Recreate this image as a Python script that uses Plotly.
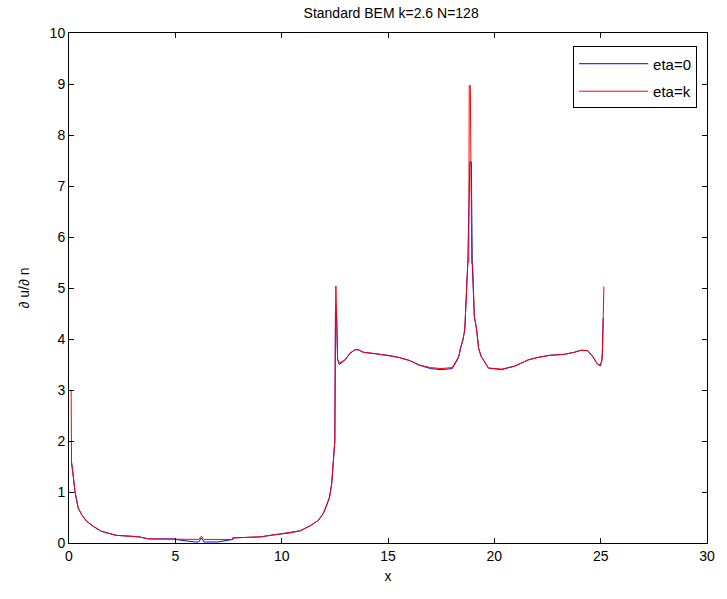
import plotly.graph_objects as go

# ---- data ----
x_red = [0.1, 0.12, 0.2, 0.28, 0.43, 0.59, 0.82, 1.13, 1.52, 1.91, 2.22, 3.0, 3.3, 3.75, 5.0, 5.0,
         6.1, 6.22, 6.35, 7.7, 7.7, 9.0, 9.47, 10.0, 10.42, 10.88, 11.35, 11.74, 11.97, 12.13,
         12.25, 12.35, 12.42, 12.5, 12.53, 12.55, 12.58, 12.63, 12.71, 12.98, 13.21, 13.45, 13.6,
         13.84, 14.45, 15.0, 15.5, 16.0, 16.46, 17.0, 17.5, 18.02, 18.26, 18.33, 18.41, 18.52,
         18.61, 18.68, 18.75, 18.8, 18.82, 18.87, 18.9, 18.94, 18.98, 19.06, 19.17, 19.26, 19.38,
         19.72, 20.35, 20.97, 21.59, 22.06, 22.6, 23.3, 23.77, 24.08, 24.39, 24.62, 24.85, 24.98,
         25.06, 25.08, 25.12, 25.15]
y_red = [3.0, 1.58, 1.31, 1.01, 0.69, 0.56, 0.43, 0.33, 0.23, 0.19, 0.15, 0.13, 0.12, 0.08, 0.08, 0.07,
         0.07, 0.13, 0.07, 0.07, 0.1, 0.12, 0.15, 0.17, 0.2, 0.24, 0.34, 0.45, 0.59, 0.75,
         0.9, 1.15, 1.57, 2.0, 4.53, 5.04, 4.53, 3.6, 3.53, 3.59, 3.72, 3.79, 3.79,
         3.74, 3.71, 3.68, 3.64, 3.58, 3.49, 3.44, 3.42, 3.44, 3.59, 3.66, 3.82, 3.98,
         4.18, 4.83, 5.48, 5.5, 8.97, 8.97, 7.47, 5.48, 5.48, 4.44, 4.18, 3.82, 3.66,
         3.43, 3.41, 3.47, 3.59, 3.64, 3.68, 3.70, 3.74, 3.78, 3.77, 3.66, 3.51, 3.49,
         3.59, 3.73, 4.41, 5.03]

x_blue = [0.1, 0.12, 0.2, 0.28, 0.43, 0.59, 0.82, 1.13, 1.52, 1.91, 2.22, 3.0, 3.3, 3.75, 5.0, 5.0,
          5.9, 6.1, 6.22, 6.35, 7.0, 7.7, 7.7, 9.0, 9.47, 10.0, 10.42, 10.88, 11.35, 11.74, 11.97,
          12.13, 12.25, 12.35, 12.42, 12.5, 12.53, 12.58, 12.63, 12.71, 12.98, 13.21, 13.45, 13.6,
          13.84, 14.45, 15.0, 15.5, 16.0, 16.46, 17.0, 17.5, 18.02, 18.26, 18.33, 18.41, 18.52,
          18.61, 18.68, 18.75, 18.85, 18.92, 18.96, 19.06, 19.17, 19.26, 19.38, 19.72, 20.35,
          20.97, 21.59, 22.06, 22.6, 23.3, 23.77, 24.08, 24.39, 24.62, 24.85, 24.98, 25.06, 25.08,
          25.12]
y_blue = [1.6, 1.58, 1.31, 1.01, 0.69, 0.56, 0.43, 0.33, 0.23, 0.19, 0.15, 0.13, 0.12, 0.08, 0.08, 0.07,
          0.02, 0.02, 0.1, 0.02, 0.02, 0.07, 0.1, 0.12, 0.15, 0.17, 0.2, 0.24, 0.34, 0.45, 0.59,
          0.75, 0.9, 1.15, 1.57, 2.0, 4.53, 4.53, 3.6, 3.5, 3.59, 3.72, 3.79, 3.79,
          3.74, 3.71, 3.68, 3.64, 3.58, 3.49, 3.42, 3.40, 3.42, 3.59, 3.66, 3.82, 3.98,
          4.18, 4.83, 5.48, 7.47, 7.47, 5.48, 4.44, 4.18, 3.82, 3.66, 3.43, 3.40,
          3.47, 3.59, 3.64, 3.68, 3.70, 3.74, 3.78, 3.77, 3.66, 3.51, 3.47, 3.59, 3.73,
          4.41]

x_ticks = [0, 5, 10, 15, 20, 25, 30]
y_ticks = [0, 1, 2, 3, 4, 5, 6, 7, 8, 9, 10]

FONT = "Liberation Sans, Arial, sans-serif"

fig = go.Figure()
fig.add_trace(go.Scatter(x=x_blue, y=y_blue, mode="lines", name="eta=0", legendgroup="a",
                         line=dict(color="#0000FF", width=1)))
fig.add_trace(go.Scatter(x=x_red, y=y_red, mode="lines", name="eta=k", legendgroup="b",
                         line=dict(color="#FF0000", width=1)))

axis_common = dict(showgrid=False, zeroline=False, showline=True, linecolor="black",
                   linewidth=1, mirror="ticks", ticks="inside", ticklen=5,
                   tickcolor="black", tickfont=dict(family=FONT, size=14, color="black"))

fig.update_layout(
    width=727, height=599,
    margin=dict(l=69, r=13, t=33, b=56),
    paper_bgcolor="white", plot_bgcolor="white",
    title=dict(text="Standard BEM k=2.6 N=128", x=0.538, xanchor="center",
               y=0.978, yanchor="middle",
               font=dict(family=FONT, size=14, color="black")),
    xaxis=dict(range=[0, 30], tickvals=x_ticks, title=dict(text="x", standoff=8,
               font=dict(family=FONT, size=14, color="black")), **axis_common),
    yaxis=dict(range=[0, 10], tickvals=y_ticks, title=dict(text="∂ u/∂ n", standoff=16,
               font=dict(family=FONT, size=14, color="black")), **axis_common),
    legend=dict(x=0.9845, xanchor="right", y=0.9736, yanchor="top",
                bordercolor="black", borderwidth=1, bgcolor="white",
                font=dict(family=FONT, size=15, color="black"),
                itemwidth=69, tracegroupgap=5),
    showlegend=True,
)

fig.write_html("out.html")
